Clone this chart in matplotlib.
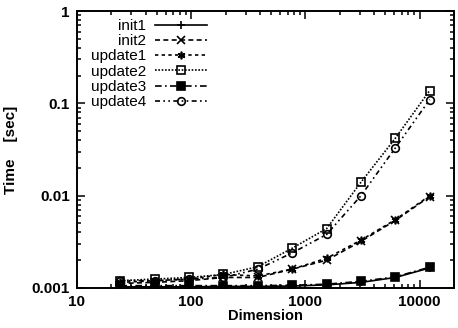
import numpy as np
import matplotlib.pyplot as plt
from matplotlib.ticker import LogLocator, NullFormatter, FixedLocator, FixedFormatter

plt.rcParams['font.family'] = ['Liberation Sans', 'DejaVu Sans']

dims = [24, 48, 96, 192, 384, 768, 1536, 3072, 6144, 12288]
init1 = [0.00103, 0.00103, 0.00103, 0.00104, 0.00104, 0.00105, 0.00108, 0.00115, 0.0013, 0.00165]
init2 = [0.00112, 0.00115, 0.0012, 0.0013, 0.0013, 0.0016, 0.0020, 0.0032, 0.0054, 0.0098]
update1 = [0.00115, 0.0012, 0.00125, 0.0014, 0.00135, 0.0016, 0.0021, 0.0033, 0.0055, 0.0100]
update2 = [0.0012, 0.00125, 0.0013, 0.0014, 0.0017, 0.0027, 0.0044, 0.014, 0.042, 0.138]
update3 = [0.00106, 0.00106, 0.00106, 0.00106, 0.00106, 0.00107, 0.0011, 0.00118, 0.00132, 0.00168]
update4 = [0.0012, 0.0012, 0.00125, 0.0013, 0.0016, 0.0024, 0.0038, 0.010, 0.033, 0.11]

fig = plt.figure(figsize=(4.58, 3.28), dpi=100)
ax = fig.add_axes([0.168, 0.122, 0.823, 0.844])

k = dict(color='black', lw=1.2, ms=5.5, mew=1.2)
ax.plot(dims, init1, '-', marker='+', label='init1', **k)
ax.plot(dims, init2, '--', marker='x', dashes=(3, 2), label='init2', **k)
ax.plot(dims, update1, ':', marker=(6, 2, 0), dashes=(2, 2), label='update1', **k)
ax.plot(dims, update2, ':', marker='s', mfc='none', dashes=(1, 1), label='update2', **k)
ax.plot(dims, update3, '-.', marker='s', dashes=(4, 2, 1, 2), label='update3', **k)
ax.plot(dims, update4, '-.', marker='o', mfc='none', dashes=(3, 2, 1, 2, 1, 2), label='update4', **k)

ax.set_xscale('log')
ax.set_yscale('log')
ax.set_xlim(10, 20000)
ax.set_ylim(0.001, 1)

ax.xaxis.set_major_locator(FixedLocator([10, 100, 1000, 10000]))
ax.xaxis.set_major_formatter(FixedFormatter(['10', '100', '1000', '10000']))
ax.yaxis.set_major_locator(FixedLocator([0.001, 0.01, 0.1, 1]))
ax.yaxis.set_major_formatter(FixedFormatter(['0.001', '0.01', '0.1', '1']))
ax.xaxis.set_minor_locator(LogLocator(subs=np.arange(2, 10)))
ax.yaxis.set_minor_locator(LogLocator(subs=np.arange(2, 10)))
ax.xaxis.set_minor_formatter(NullFormatter())
ax.yaxis.set_minor_formatter(NullFormatter())

ax.tick_params(which='both', direction='in', top=True, right=True, width=1.1)
ax.tick_params(which='major', length=6, labelsize=11, pad=5)
ax.tick_params(which='minor', length=3)
for lab in ax.get_xticklabels() + ax.get_yticklabels():
    lab.set_fontweight('bold')
for s in ax.spines.values():
    s.set_linewidth(1.4)

ax.set_xlabel('Dimension', fontsize=10.5, fontweight='bold', labelpad=0)
ax.set_ylabel('Time    [sec]', fontsize=11, fontweight='bold', labelpad=10)

ax.legend(loc='upper right', bbox_to_anchor=(207 / 458, 1 - 19 / 328),
          bbox_transform=fig.transFigure, frameon=False, markerfirst=False,
          prop={'size': 11}, handlelength=3.4, labelspacing=0.08,
          borderaxespad=0, borderpad=0, handletextpad=0.6)

plt.savefig('out.png', dpi=100)
